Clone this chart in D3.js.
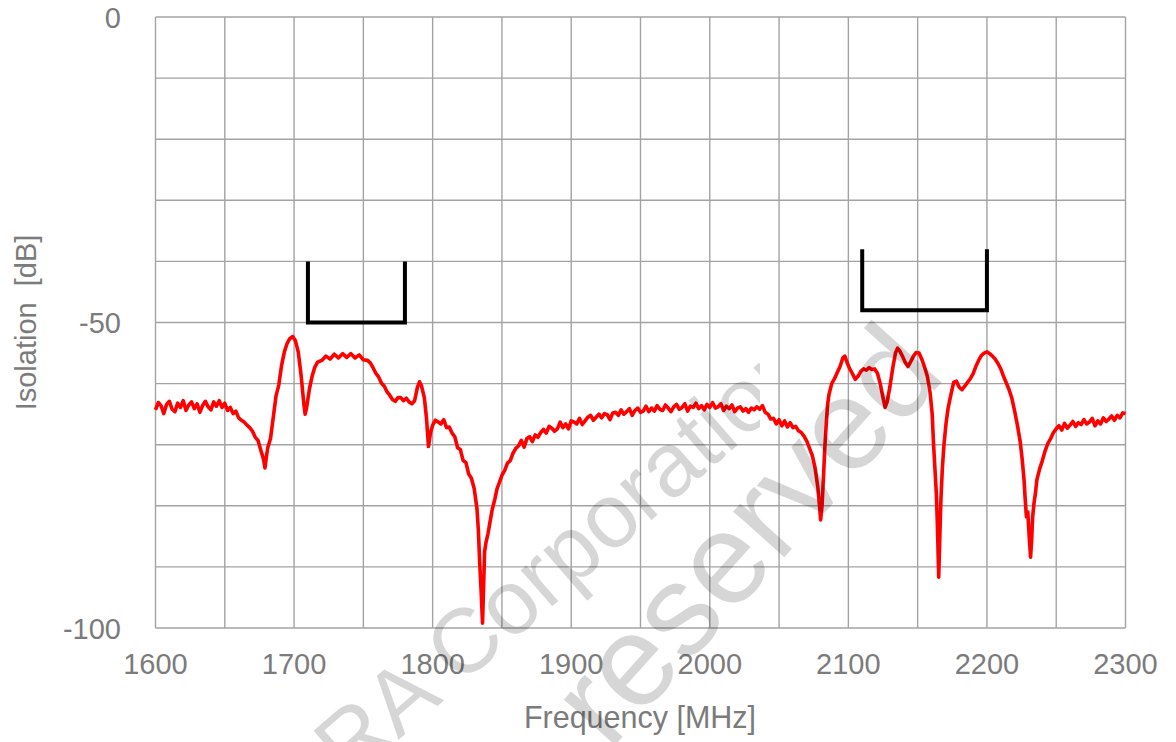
<!DOCTYPE html>
<html>
<head>
<meta charset="utf-8">
<script src="https://cdn.jsdelivr.net/npm/d3@7"></script>
<style>
  html, body { margin: 0; padding: 0; background: #ffffff; }
  svg { display: block; }
  text { font-family: "Liberation Sans", Arial, sans-serif; }
</style>
</head>
<body>
<svg id="chart" width="1176" height="742"></svg>
<script>
// ---------------- data ----------------
const freqMHz = [
  1600,1602,1604,1606,1608,1610,1612,1614,1616,1618,1620,1622,1624,1626,1628,1630,1632,1634,1636,1638,
  1640,1642,1644,1646,1648,1650,1652,1654,1656,1658,1660,1662,1664,1666,1668,1670,1672,1674,1676,1678,
  1679,1680,1681,1683,1685,1687,1689,1691,1693,1695,1697,1699,1701,1703,1705,1707,1708,1709,1711,1713,
  1715,1717,1720,1723,1726,1729,1732,1735,1738,1741,1744,1747,1750,1753,1755,1757,1759,1761,1763,1765,
  1767,1769,1771,1773,1775,1777,1779,1781,1783,1785,1787,1789,1790.5,1792,1794,1795.5,1797,1798.5,1800,1802,
  1804,1806,1808,1810,1812,1814,1816,1818,1820,1822,1824,1826,1828,1830,1832,1833,1834,1835,1836,1836.8,
  1837.5,1838.5,1840,1841.5,1843,1845,1846.5,1848,1850,1852,1854,1856,1858,1860,1862,1864,1866,1868,1870,1872,
  1874,1876,1878,1880,1882,1884,1886,1888,1890,1892,1894,1896,1898,1900,1902,1904,1906,1908,1910,1912,
  1914,1916,1918,1920,1922,1924,1926,1928,1930,1932,1934,1936,1938,1940,1942,1944,1946,1948,1950,1952,
  1954,1956,1958,1960,1962,1964,1966,1968,1970,1972,1974,1976,1978,1980,1982,1984,1986,1988,1990,1992,
  1994,1996,1998,2000,2002,2004,2006,2008,2010,2012,2014,2016,2018,2020,2022,2024,2026,2028,2030,2032,
  2034,2036,2038,2040,2042,2044,2046,2048,2050,2052,2054,2056,2058,2060,2062,2064,2066,2068,2070,2072,
  2074,2076,2078,2079,2080,2081,2082,2083,2084,2085,2086,2088,2090,2092,2094,2096,2097.5,2099,2101,2103,
  2105,2107,2109,2111,2113,2115,2117,2119,2121,2123,2125,2126.5,2128,2130,2132,2134,2135.5,2137,2139,2141,
  2143,2145,2147,2149,2151,2153,2155,2157,2159,2160.5,2161.5,2162.5,2163.5,2164.3,2165.2,2166,2166.8,2167.8,2169,2170.5,
  2172,2174,2176,2178,2180,2182,2184,2186,2188,2190,2192,2194,2196,2198,2200,2202,2204,2206,2208,2210,
  2212,2214,2216,2218,2220,2222,2224,2225.5,2226.8,2227.5,2228.5,2229.5,2230.5,2231.5,2232.3,2233,2234,2235,2236,2238,
  2240,2242,2244,2246,2248,2250,2252,2254,2256,2258,2260,2262,2264,2266,2268,2270,2272,2274,2276,2278,
  2280,2282,2284,2286,2288,2290,2292,2294,2296,2298,2300
];
const isolationDb = [
  -64.3,-63.1,-63.6,-64.9,-63.4,-62.9,-64.2,-64.6,-63.2,-63.9,-62.8,-64.4,-63.5,-63.0,-64.1,-63.3,-64.7,-63.6,-62.9,-63.8,
  -64.3,-63.0,-63.7,-62.8,-63.9,-63.2,-64.4,-63.9,-64.9,-64.5,-65.6,-66.0,-66.3,-66.8,-67.2,-67.8,-68.8,-69.3,-70.9,-72.4,
  -73.8,-72.0,-70.5,-69.0,-65.5,-62.0,-60.2,-57.0,-54.8,-53.4,-52.6,-52.3,-53.0,-54.8,-58.5,-63.2,-65.0,-64.0,-61.0,-58.8,
  -57.3,-56.5,-56.2,-55.5,-56.0,-55.2,-55.8,-55.1,-55.7,-55.1,-55.8,-55.3,-56.1,-56.2,-56.6,-57.4,-58.3,-58.9,-59.9,-60.4,
  -61.3,-61.9,-62.6,-62.9,-62.3,-62.3,-62.8,-62.4,-63.0,-63.3,-62.8,-60.6,-59.7,-60.4,-62.3,-65.5,-70.3,-68.0,-66.8,-66.0,
  -66.3,-66.6,-65.9,-67.2,-67.1,-68.1,-68.7,-70.5,-70.8,-72.6,-72.9,-74.8,-75.5,-77.2,-80.5,-84.0,-89.5,-94.0,-99.2,-93.0,
  -87.5,-86.0,-84.5,-82.5,-80.6,-78.8,-77.2,-76.3,-75.0,-74.2,-73.0,-72.6,-71.4,-70.6,-70.2,-69.3,-70.4,-69.0,-68.7,-69.5,
  -68.4,-68.8,-68.0,-67.5,-68.1,-67.0,-67.3,-67.8,-67.4,-66.3,-67.2,-66.6,-67.4,-66.1,-66.3,-66.6,-65.7,-66.7,-66.1,-65.5,
  -65.2,-66.0,-65.5,-65.0,-65.6,-64.9,-65.1,-65.9,-64.8,-64.7,-65.2,-64.3,-65.0,-64.6,-64.1,-65.2,-64.4,-64.0,-64.7,-64.5,
  -63.7,-64.6,-64.0,-64.5,-63.6,-64.2,-64.4,-63.5,-64.0,-64.6,-63.8,-63.4,-64.2,-63.9,-63.3,-64.5,-63.7,-63.9,-63.2,-64.1,
  -63.6,-64.3,-63.4,-63.9,-63.1,-64.0,-63.8,-63.3,-64.4,-63.7,-64.1,-63.5,-64.6,-64.0,-63.8,-64.5,-64.1,-64.7,-64.0,-64.3,
  -63.8,-64.2,-63.6,-64.7,-65.0,-65.8,-65.7,-66.6,-65.9,-66.9,-66.1,-67.1,-66.4,-67.2,-67.0,-67.7,-68.0,-68.6,-69.4,-70.6,
  -71.8,-73.8,-77.0,-79.5,-82.3,-80.0,-75.5,-70.5,-66.8,-63.5,-61.8,-60.0,-59.2,-58.2,-57.2,-55.8,-55.5,-56.5,-57.6,-58.4,
  -59.3,-58.8,-58.0,-57.6,-57.8,-57.4,-57.7,-57.6,-58.3,-60.0,-62.3,-63.9,-63.0,-60.5,-57.5,-55.0,-54.2,-54.6,-55.5,-56.5,
  -57.2,-56.4,-55.5,-54.9,-55.0,-56.0,-57.3,-58.8,-61.5,-65.0,-70.0,-74.0,-78.0,-83.5,-91.7,-85.0,-79.0,-74.0,-70.0,-66.5,
  -64.0,-61.8,-59.8,-59.6,-60.6,-61.0,-60.4,-59.8,-59.2,-58.4,-57.2,-56.2,-55.4,-55.0,-54.8,-55.1,-55.5,-56.0,-56.7,-57.6,
  -58.8,-59.9,-61.0,-62.4,-64.5,-66.8,-69.5,-72.5,-75.8,-78.5,-81.8,-81.0,-85.0,-88.4,-85.5,-81.8,-79.5,-78.0,-75.8,-74.0,
  -72.6,-71.0,-69.8,-69.0,-68.0,-67.4,-66.9,-67.6,-66.5,-67.3,-66.8,-66.2,-67.0,-66.4,-66.7,-65.9,-66.6,-66.3,-65.7,-66.9,
  -66.1,-66.6,-65.6,-66.2,-65.8,-65.3,-66.0,-65.2,-65.6,-64.8,-64.9
];

// spec-limit brackets
const bandStartMHz = [1710, 2110];
const bandEndMHz   = [1780, 2200];
const bandTopDb    = [-40, -38];
const bandLimitDb  = [-50, -48];

const xTickLabels = [1600, 1700, 1800, 1900, 2000, 2100, 2200, 2300];
const yTickLabels = [0, -50, -100];
const xGrid = d3.range(1600, 2301, 50);
const yGrid = d3.range(-100, 1, 10);

const xTitle = "Frequency [MHz]";
const yTitle = "Isolation\u00a0\u00a0[dB]";

// ---------------- layout ----------------
const svg = d3.select("#chart");
const plot = { left: 155.5, right: 1125.5, top: 17, bottom: 628 };

const x = d3.scaleLinear().domain([1600, 2300]).range([plot.left, plot.right]);
const y = d3.scaleLinear().domain([-100, 0]).range([plot.bottom, plot.top]);

const gridColor = "#a3a3a3";
const labelColor = "#7b7b7b";

// grid
const grid = svg.append("g");
grid.selectAll("line.v").data(xGrid).join("line")
  .attr("x1", d => x(d)).attr("x2", d => x(d))
  .attr("y1", plot.top).attr("y2", plot.bottom)
  .attr("stroke", gridColor).attr("stroke-width", 1.4);
grid.selectAll("line.h").data(yGrid).join("line")
  .attr("x1", plot.left).attr("x2", plot.right)
  .attr("y1", d => y(d)).attr("y2", d => y(d))
  .attr("stroke", gridColor).attr("stroke-width", 1.4);

// tick labels
svg.append("g").selectAll("text").data(xTickLabels).join("text")
  .attr("x", d => x(d)).attr("y", 674)
  .attr("text-anchor", "middle")
  .attr("font-size", 29).attr("fill", labelColor)
  .text(d => d);
svg.append("g").selectAll("text").data(yTickLabels).join("text")
  .attr("x", 121).attr("y", d => y(d) + 10.5)
  .attr("text-anchor", "end")
  .attr("font-size", 29).attr("fill", labelColor)
  .text(d => d);

// axis titles
svg.append("text")
  .attr("x", 640).attr("y", 728)
  .attr("text-anchor", "middle")
  .attr("font-size", 30.5).attr("fill", labelColor)
  .text(xTitle);
svg.append("text")
  .attr("transform", `translate(36, ${(plot.top + plot.bottom) / 2}) rotate(-90)`)
  .attr("text-anchor", "middle")
  .attr("font-size", 29).attr("fill", labelColor)
  .text(yTitle);

// data line
const pts = freqMHz.map((f, i) => [f, isolationDb[i]]);
svg.append("path")
  .datum(pts)
  .attr("fill", "none")
  .attr("stroke", "#ff0000")
  .attr("stroke-width", 3.6)
  .attr("stroke-linejoin", "round")
  .attr("d", d3.line().x(d => x(d[0])).y(d => y(d[1])));

// spec brackets
const bands = bandStartMHz.map((s, i) => ({ s, e: bandEndMHz[i], top: bandTopDb[i], lim: bandLimitDb[i] }));
svg.append("g").selectAll("path").data(bands).join("path")
  .attr("fill", "none").attr("stroke", "#000").attr("stroke-width", 4)
  .attr("stroke-linejoin", "miter")
  .attr("d", b => `M${x(b.s)},${y(b.top)} L${x(b.s)},${y(b.lim)} L${x(b.e)},${y(b.lim)} L${x(b.e)},${y(b.top)}`);

// watermark
const defs = svg.append("defs");
defs.append("clipPath").attr("id", "wmclip")
  .append("rect").attr("x", 0).attr("y", 0).attr("width", 760).attr("height", 742);
const wm = svg.append("g").attr("fill", "#000").attr("fill-opacity", 0.16);
wm.append("g").attr("clip-path", "url(#wmclip)")
  .append("text")
  .attr("transform", "translate(349,783) rotate(-41)")
  .attr("font-size", 91)
  .text("RA Corporation");
wm.append("text")
  .attr("transform", "translate(609,752) rotate(-48)")
  .attr("font-size", 130)
  .text("reserved");
</script>
</body>
</html>
